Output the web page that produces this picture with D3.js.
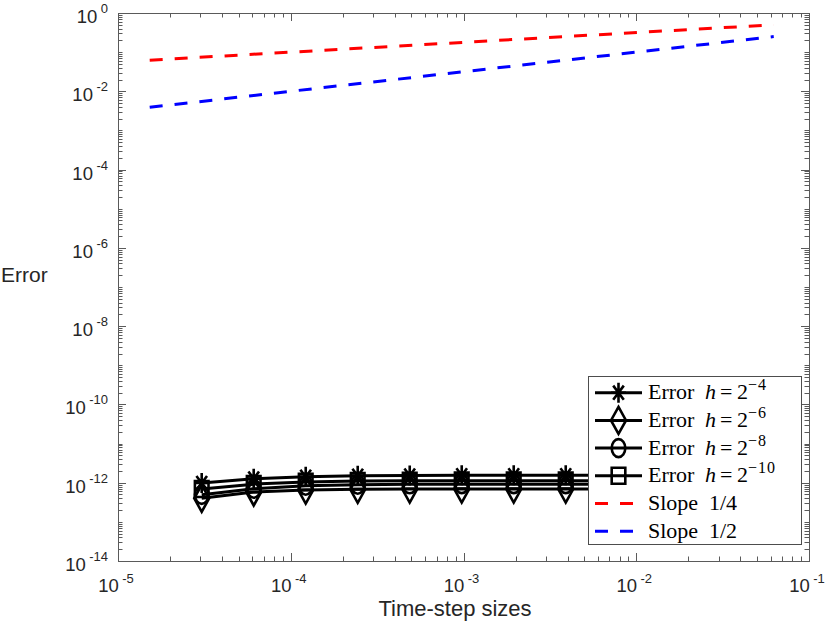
<!DOCTYPE html>
<html>
<head>
<meta charset="utf-8">
<script src="https://cdn.jsdelivr.net/npm/d3@7"></script>
<style>
    body { margin: 0; background: #fff; }
    svg text { font-family: "Liberation Sans", Arial, sans-serif; }
</style>
</head>
<body>
<svg id="convergence-chart"></svg>
<script>
// time-step sizes 2^-15 ... 2^-4
const timeSteps = [3.0518e-5, 6.1035e-5, 1.2207e-4, 2.4414e-4, 4.8828e-4, 9.7656e-4, 1.9531e-3, 3.9063e-3, 7.8125e-3, 1.5625e-2, 3.125e-2, 6.25e-2];
const errorH4  = [9.8e-13, 1.27e-12, 1.42e-12, 1.5e-12, 1.53e-12, 1.54e-12, 1.55e-12, 1.55e-12, 1.55e-12, 1.56e-12, 1.56e-12, 1.56e-12];
const errorH6  = [4.0e-13, 5.8e-13, 6.5e-13, 6.8e-13, 6.9e-13, 6.9e-13, 6.9e-13, 6.9e-13, 6.9e-13, 6.9e-13, 6.9e-13, 6.9e-13];
const errorH8  = [4.9e-13, 7.0e-13, 8.4e-13, 8.9e-13, 9.1e-13, 9.2e-13, 9.2e-13, 9.2e-13, 9.2e-13, 9.2e-13, 9.2e-13, 9.2e-13];
const errorH10 = [6.9e-13, 9.2e-13, 1.05e-12, 1.1e-12, 1.12e-12, 1.13e-12, 1.13e-12, 1.13e-12, 1.13e-12, 1.13e-12, 1.13e-12, 1.13e-12];

// reference slope lines (end points)
const slopeSteps   = [1.5259e-5, 6.25e-2];
const slopeQuarter = [6.25e-2, 0.5];
const slopeHalf    = [3.9063e-3, 0.25];

const xTickValues = [1e-5, 1e-4, 1e-3, 1e-2, 1e-1];
const xTickExps   = ["-5", "-4", "-3", "-2", "-1"];
const yTickValues = [1e-14, 1e-12, 1e-10, 1e-8, 1e-6, 1e-4, 1e-2, 1];
const yTickExps   = ["-14", "-12", "-10", "-8", "-6", "-4", "-2", "0"];

const errorLabels = ["-4", "-6", "-8", "-10"];
const slopeLabels = ["1/4", "1/2"];

const W = 830, H = 625;
const margin = { top: 13, right: 21, bottom: 64, left: 118 };
const width = W - margin.left - margin.right;
const height = H - margin.top - margin.bottom;

const svg = d3.select("#convergence-chart")
    .attr("width", W)
    .attr("height", H);

const g = svg.append("g")
    .attr("transform", `translate(${margin.left},${margin.top})`);

const x = d3.scaleLog().domain([1e-5, 1e-1]).range([0, width]);
const y = d3.scaleLog().domain([1e-14, 1]).range([height, 0]);

// marker shapes (slightly taller than wide, like the picture)
function markerPath(type) {
    if (type === "star") {
        const a = 7.5, b = 10, c = 0.707;
        return `M${-a},0L${a},0M0,${-b}L0,${b}M${-a*c},${-b*c}L${a*c},${b*c}M${-a*c},${b*c}L${a*c},${-b*c}`;
    }
    if (type === "diamond") return "M0,-13.5L7.5,0L0,13.5L-7.5,0Z";
    if (type === "square") return "M-6.8,-8L6.8,-8L6.8,8L-6.8,8Z";
    return "M-6.8,0A6.8,9 0 1,0 6.8,0A6.8,9 0 1,0 -6.8,0Z";
}

const series = [
    { values: errorH4, marker: "star" },
    { values: errorH6, marker: "diamond" },
    { values: errorH8, marker: "circle" },
    { values: errorH10, marker: "square" }
];

const line = d3.line()
    .x(d => x(d[0]))
    .y(d => y(d[1]));

series.forEach(s => {
    const pts = timeSteps.map((t, i) => [t, s.values[i]]);
    g.append("path")
        .datum(pts)
        .attr("d", line)
        .attr("fill", "none")
        .attr("stroke", "#000")
        .attr("stroke-width", 3);
    g.selectAll(null)
        .data(pts)
        .enter().append("path")
        .attr("d", markerPath(s.marker))
        .attr("transform", d => `translate(${x(d[0])},${y(d[1])})`)
        .attr("fill", "none")
        .attr("stroke", "#000")
        .attr("stroke-width", 2.6);
});

// slope lines
[[slopeQuarter, "#ff0000"], [slopeHalf, "#0000ff"]].forEach(([vals, col]) => {
    g.append("path")
        .datum(slopeSteps.map((t, i) => [t, vals[i]]))
        .attr("d", line)
        .attr("fill", "none")
        .attr("stroke", col)
        .attr("stroke-width", 3)
        .attr("stroke-dasharray", "13,12");
});

// axes box and inward ticks
const axisColor = "#5a5a5a";
g.append("rect")
    .attr("x", 0.5).attr("y", 0.5)
    .attr("width", width).attr("height", height)
    .attr("fill", "none")
    .attr("stroke", axisColor)
    .attr("stroke-width", 1);

const xMajor = d3.range(-5, 0).map(k => Math.pow(10, k)).concat([1e-1]);
const xMinor = [];
d3.range(-5, -1).forEach(k => d3.range(2, 10).forEach(m => xMinor.push(m * Math.pow(10, k))));
const yMajor = d3.range(-14, 1).map(k => Math.pow(10, k));
const yMinor = [];
d3.range(-14, 0).forEach(k => d3.range(2, 10).forEach(m => yMinor.push(m * Math.pow(10, k))));

const ticks = g.append("g").attr("stroke", axisColor).attr("stroke-width", 1);
function xTick(v, len) {
    const px = Math.round(x(v)) + 0.5;
    ticks.append("line").attr("x1", px).attr("x2", px).attr("y1", height).attr("y2", height - len);
    ticks.append("line").attr("x1", px).attr("x2", px).attr("y1", 0).attr("y2", len);
}
function yTick(v, len) {
    const py = Math.round(y(v)) + 0.5;
    ticks.append("line").attr("y1", py).attr("y2", py).attr("x1", 0).attr("x2", len);
    ticks.append("line").attr("y1", py).attr("y2", py).attr("x1", width).attr("x2", width - len);
}
xMajor.forEach(v => xTick(v, 8));
xMinor.forEach(v => xTick(v, 4.5));
yTickValues.forEach(v => yTick(v, 8));
yMajor.filter(v => !yTickValues.includes(v)).forEach(v => yTick(v, 4.5));
yMinor.forEach(v => yTick(v, 4.5));

// tick labels
const xLabels = g.append("g").attr("fill", "#262626");
xTickValues.forEach((v, i) => {
    const t = xLabels.append("text")
        .attr("x", x(v) - 2)
        .attr("y", height + 31)
        .attr("text-anchor", "middle")
        .style("font-size", "18.5px")
        .text("10");
    t.append("tspan")
        .attr("dx", 3.5)
        .attr("dy", -9)
        .style("font-size", "13px")
        .text(xTickExps[i]);
});

const yLabels = g.append("g").attr("fill", "#262626");
yTickValues.forEach((v, i) => {
    const t = yLabels.append("text")
        .attr("x", -10)
        .attr("y", y(v) + 10)
        .attr("text-anchor", "end")
        .style("font-size", "18.5px")
        .text("10");
    t.append("tspan")
        .attr("dx", 3.5)
        .attr("dy", -10)
        .style("font-size", "13px")
        .text(yTickExps[i]);
});

// axis labels
svg.append("text")
    .attr("x", 1)
    .attr("y", 281.5)
    .attr("fill", "#262626")
    .style("font-size", "21px")
    .text("Error");

svg.append("text")
    .attr("x", 455)
    .attr("y", 616)
    .attr("text-anchor", "middle")
    .attr("fill", "#262626")
    .style("font-size", "22px")
    .text("Time-step sizes");

// legend
const legend = svg.append("g").attr("class", "legend");
legend.append("rect")
    .attr("x", 588.5).attr("y", 376.5)
    .attr("width", 213).attr("height", 168)
    .attr("fill", "#fff")
    .attr("stroke", "#4d4d4d")
    .attr("stroke-width", 1);

const rowY = i => 392.7 + i * 27.7;
const serif = '"Liberation Serif", "Times New Roman", serif';

series.forEach((s, i) => {
    const cy = rowY(i);
    legend.append("line")
        .attr("x1", 595).attr("x2", 642)
        .attr("y1", cy).attr("y2", cy)
        .attr("stroke", "#000").attr("stroke-width", 3);
    legend.append("path")
        .attr("d", markerPath(s.marker))
        .attr("transform", `translate(618.5,${cy})`)
        .attr("fill", "none")
        .attr("stroke", "#000")
        .attr("stroke-width", 2.6);
    const t = legend.append("text")
        .attr("y", cy + 6.5)
        .attr("fill", "#000")
        .style("font-family", serif)
        .style("font-size", "22px");
    t.append("tspan").attr("x", 648).text("Error");
    t.append("tspan").attr("x", 705).style("font-style", "italic").text("h");
    t.append("tspan").attr("x", 720).text("=");
    t.append("tspan").attr("x", 737).text("2");
    t.append("tspan").attr("x", 748).attr("dy", -9)
        .style("font-size", "16px")
        .style("letter-spacing", "1px")
        .text(errorLabels[i].replace("-", "\u2212"));
});

[["#ff0000", slopeLabels[0]], ["#0000ff", slopeLabels[1]]].forEach(([col, lab], j) => {
    const cy = rowY(4 + j);
    legend.append("line")
        .attr("x1", 595).attr("x2", 642)
        .attr("y1", cy).attr("y2", cy)
        .attr("stroke", col).attr("stroke-width", 3)
        .attr("stroke-dasharray", "13,12");
    const t = legend.append("text")
        .attr("y", cy + 6.5)
        .attr("fill", "#000")
        .style("font-family", serif)
        .style("font-size", "22px");
    t.append("tspan").attr("x", 648).text("Slope");
    t.append("tspan").attr("x", 709).text(lab);
});
</script>
</body>
</html>
